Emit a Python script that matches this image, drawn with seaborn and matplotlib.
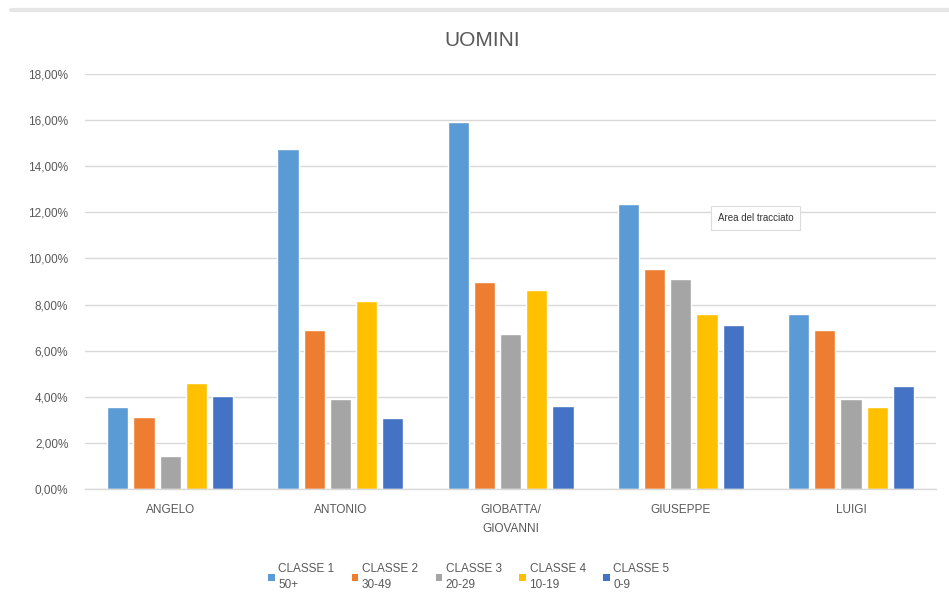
import matplotlib
matplotlib.use("Agg")
import matplotlib.pyplot as plt
import matplotlib.ticker as mticker
from matplotlib.patches import Patch
from matplotlib.lines import Line2D
import seaborn as sns
import pandas as pd

# Share of men's first names by age class
names = ["ANGELO", "ANTONIO", "GIOBATTA/\nGIOVANNI", "GIUSEPPE", "LUIGI"]
classes = ["CLASSE 1\n50+", "CLASSE 2\n30-49", "CLASSE 3\n20-29", "CLASSE 4\n10-19", "CLASSE 5\n0-9"]
classe_1 = [3.55, 14.75, 15.90, 12.38, 7.60]
classe_2 = [3.12, 6.90, 9.00, 9.56, 6.90]
classe_3 = [1.43, 3.90, 6.72, 9.13, 3.90]
classe_4 = [4.58, 8.15, 8.65, 7.60, 3.56]
classe_5 = [4.03, 3.06, 3.58, 7.12, 4.48]
colors = ["#5B9BD5", "#ED7D31", "#A5A5A5", "#FFC000", "#4472C4"]

series = [classe_1, classe_2, classe_3, classe_4, classe_5]
rows = []
for cls, vals in zip(classes, series):
    for name, v in zip(names, vals):
        rows.append({"nome": name, "classe": cls, "quota": v / 100})
df = pd.DataFrame(rows)

sns.set_theme(style="white")
plt.rcParams["font.family"] = ["Liberation Sans", "DejaVu Sans"]

fig = plt.figure(figsize=(9.49, 6.08), dpi=100)
ax = fig.add_axes([0.0896, 0.1957, 0.8968, 0.6826])

sns.barplot(data=df, x="nome", y="quota", hue="classe", order=names,
            hue_order=classes, palette=colors, width=0.77, gap=0.19,
            saturation=1, ax=ax, legend=False)

ax.set_ylim(0, 0.18)
ax.set_xlim(-0.5, len(names) - 0.5)
ax.yaxis.set_major_locator(mticker.MultipleLocator(0.02))
ax.yaxis.set_major_formatter(
    mticker.FuncFormatter(lambda v, p: f"{v*100:.2f}%".replace(".", ",")))
ax.grid(axis="y", color="#d9d9d9", linewidth=1)
ax.set_axisbelow(True)
for side in ["top", "right", "left"]:
    ax.spines[side].set_visible(False)
ax.spines["bottom"].set_color("#d9d9d9")
ax.spines["bottom"].set_linewidth(1)
ax.set_xlabel("")
ax.set_ylabel("")
ax.tick_params(axis="y", length=0, pad=12, labelsize=8.5, labelcolor="#595959")
ax.tick_params(axis="x", length=0, pad=11, labelsize=8.5, labelcolor="#595959")
for lbl in ax.get_xticklabels():
    lbl.set_linespacing(1.7)

fig.text(0.508, 0.934, "UOMINI", ha="center", va="center",
         fontsize=15, color="#595959")

handles = [Patch(facecolor=c, edgecolor="none") for c in colors]
leg = fig.legend(handles, classes, loc="center", bbox_to_anchor=(0.494, 0.051),
                 ncol=5, frameon=False, fontsize=8.5, handlelength=0.55,
                 handleheight=0.55, handletextpad=0.3, columnspacing=1.5)
for t in leg.get_texts():
    t.set_color("#595959")
    t.set_linespacing(1.5)

# chart-area tooltip
fig.text(0.796, 0.641, "Area del tracciato", ha="center", va="center",
         fontsize=7, color="#333333",
         bbox=dict(boxstyle="square,pad=0.7", facecolor="white",
                   edgecolor="#dcdcdc", linewidth=0.8))

# thin band along the top of the canvas
fig.add_artist(Line2D([0.012, 1.0], [0.983, 0.983], transform=fig.transFigure,
                      color="#e6e6e6", linewidth=3))

fig.savefig("out.png", dpi=100)
